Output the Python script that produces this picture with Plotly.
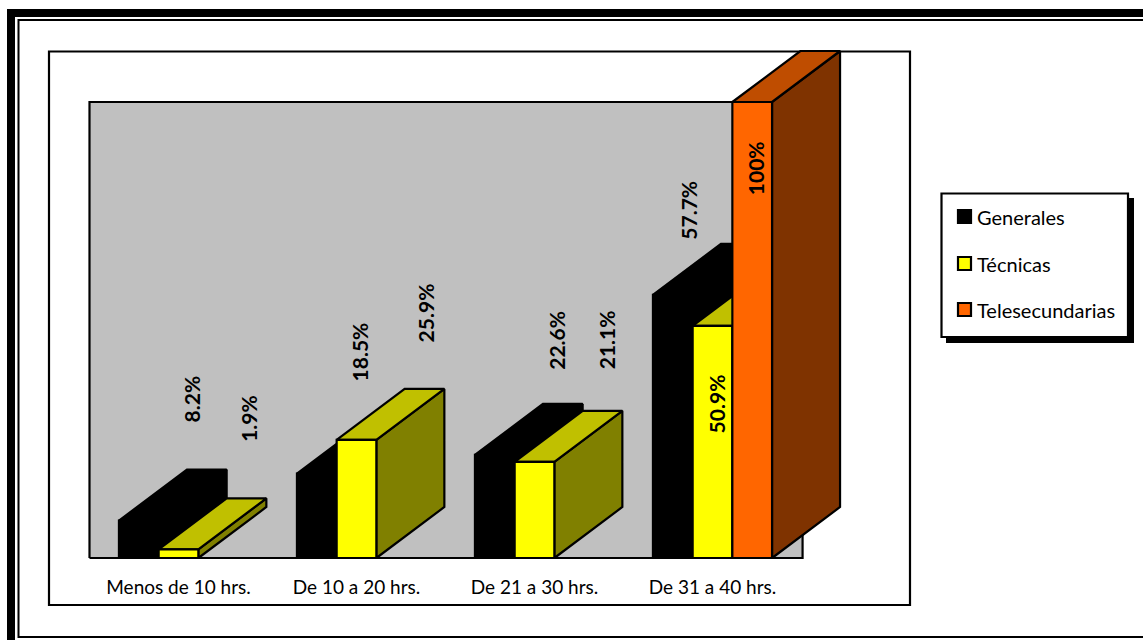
import plotly.graph_objects as go

# Survey data: share of schools by weekly hours, per school type
categories = ["Menos de 10 hrs.", "De 10 a 20 hrs.", "De 21 a 30 hrs.", "De 31 a 40 hrs."]
generales = [8.2, 18.5, 22.6, 57.7]
tecnicas = [1.9, 25.9, 21.1, 50.9]
telesecundarias = [0, 0, 0, 100]
series_names = ["Generales", "Técnicas", "Telesecundarias"]
value_labels = [
    ["8.2%", "18.5%", "22.6%", "57.7%"],
    ["1.9%", "25.9%", "21.1%", "50.9%"],
    [None, None, None, "100%"],
]

# Page and scale set-up
W, H = 1143, 640
PX_PER_CAT = 178.0
PX_PER_PCT = 4.56
CAT0_PX = 178.5
BASE_PX = 558.0
DEPTH_X = 68 / PX_PER_CAT
DEPTH_Y = 51 / PX_PER_PCT
BAR_W = 39.7 / PX_PER_CAT
EDGE = "#000000"

# front, top and side colours per series
FACES = [
    ("#000000", "#000000", "#000000"),
    ("#FFFF00", "#C0C000", "#808000"),
    ("#FF6600", "#BF4D00", "#7F3300"),
]
# hand-placed label shifts from the top of each bar's front face, in pixels
LABEL_SHIFTS = [
    [(53, 122), (43, 122), (62, 115), (16, 85)],
    [(70, 131), (69, 127), (72, 122), (4, -78)],
    [None, None, None, (3, -66)],
]

fig = go.Figure()


def poly(xs, ys, fill, line_w=2.2, line_col=EDGE):
    fig.add_trace(go.Scatter(
        x=xs + xs[:1], y=ys + ys[:1], mode="lines", fill="toself",
        fillcolor=fill, line=dict(color=line_col, width=line_w),
        hoverinfo="skip", showlegend=False,
    ))


# back wall of the plot area
poly([-0.5, 3.506, 3.506, -0.5], [0, 0, 100, 100], "#C0C0C0")

# bars, painted back to front inside each group
all_series = [generales, tecnicas, telesecundarias]
for c in range(len(categories)):
    for s, values in enumerate(all_series):
        v = values[c]
        if v <= 0:
            continue
        x0 = c + (s - 1.5) * BAR_W
        x1 = x0 + BAR_W
        front, top, side = FACES[s]
        poly([x1, x1 + DEPTH_X, x1 + DEPTH_X, x1], [0, DEPTH_Y, v + DEPTH_Y, v], side)
        poly([x0, x1, x1 + DEPTH_X, x0 + DEPTH_X], [v, v, v + DEPTH_Y, v + DEPTH_Y], top)
        poly([x0, x1, x1, x0], [0, 0, v, v], front)


def px_x(p):
    return p / W


def px_y(p):
    return 1 - p / H


def rect(x0, y0, x1, y1, fill=None, line=None, width=0, layer="below"):
    fig.add_shape(
        type="rect", xref="paper", yref="paper",
        x0=px_x(x0), x1=px_x(x1), y0=px_y(y0), y1=px_y(y1),
        fillcolor=fill if fill else "rgba(0,0,0,0)",
        line=dict(color=line if line else "rgba(0,0,0,0)", width=width),
        layer=layer,
    )


# page frame: thick outer rule and thin inner rule
rect(7, 9, 1150, 17, fill="#000000")
rect(7, 9, 15, 650, fill="#000000")
rect(18.5, 20, 1160, 637, line="#000000", width=2)

# chart area
rect(49, 51.5, 910, 605, line="#000000", width=2.2)

# legend box with drop shadow
rect(946, 198, 1134, 343, fill="#000000")
rect(941.5, 193.5, 1128, 337, fill="#FFFFFF", line="#000000", width=2.2)
legend_rows = [217, 264, 310]
for name, (front, _, _), y in zip(series_names, FACES, legend_rows):
    rect(958, y - 7, 971, y + 6, fill=front, line="#000000", width=2.2, layer="above")
    fig.add_annotation(
        xref="paper", yref="paper", x=px_x(975), y=px_y(y), text=name,
        showarrow=False, xanchor="left", yanchor="middle",
        font=dict(family="Lato", size=20, color="#000000"),
    )

# rotated value labels
for s, values in enumerate(all_series):
    for c, v in enumerate(values):
        label = value_labels[s][c]
        if label is None:
            continue
        dx, dy = LABEL_SHIFTS[s][c]
        fig.add_annotation(
            x=c + (s - 1) * BAR_W, y=v, text=f"<b>{label}</b>", textangle=-90,
            showarrow=False, xanchor="center", yanchor="middle",
            xshift=dx, yshift=dy,
            font=dict(family="Lato", size=21, color="#000000"),
        )

fig.update_layout(
    width=W, height=H, margin=dict(l=0, r=0, t=0, b=0),
    paper_bgcolor="#FFFFFF", plot_bgcolor="rgba(0,0,0,0)", showlegend=False,
    xaxis=dict(
        range=[-CAT0_PX / PX_PER_CAT, (W - CAT0_PX) / PX_PER_CAT],
        tickmode="array", tickvals=[0, 1, 2, 3], ticktext=categories,
        showgrid=False, zeroline=False, showline=False,
        ticks="outside", ticklen=12, tickcolor="rgba(0,0,0,0)",
        tickfont=dict(family="Lato", size=19, color="#000000"),
        anchor="free", position=(H - BASE_PX) / H, automargin=False,
    ),
    yaxis=dict(
        range=[-(H - BASE_PX) / PX_PER_PCT, BASE_PX / PX_PER_PCT],
        visible=False, automargin=False,
    ),
)

fig.write_html("out.html")
